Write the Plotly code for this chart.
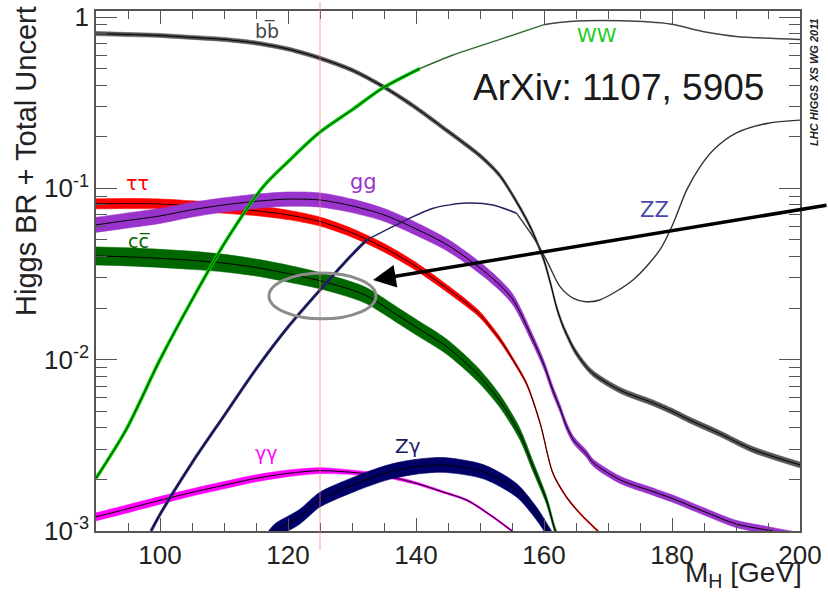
import plotly.graph_objects as go

# ---------------- data ----------------
bb_m = [90, 95, 100, 105, 110, 115, 120, 125, 130, 135, 140, 145, 150, 153, 156, 158, 160, 161, 162, 163, 165, 167.5, 172, 177, 180, 183, 187.5, 192.5, 200]
bb_v = [0.80, 0.79, 0.78, 0.76, 0.74, 0.705, 0.65, 0.575, 0.49, 0.39, 0.295, 0.215, 0.155, 0.12, 0.08, 0.058, 0.038, 0.028, 0.020, 0.0156, 0.011, 0.0084, 0.0066, 0.0056, 0.0050, 0.0044, 0.0037, 0.0030, 0.00243]
bb_u = [2.7, 2.7, 2.7, 2.7, 2.7, 2.7, 2.7, 2.7, 2.7, 2.7, 3, 3, 3, 3, 3, 3, 3.5, 3.5, 3.5, 3.5, 4, 4, 4, 4, 4, 4, 4, 4, 4]

tt_m = [90, 95, 100, 105, 110, 115, 120, 125, 130, 135, 140, 145, 148, 150, 153, 155, 157.3, 159.4, 161.4, 163.5, 165.5, 167.7, 170]
tt_v = [0.0812, 0.0815, 0.081, 0.079, 0.0766, 0.074, 0.070, 0.064, 0.055, 0.045, 0.035, 0.0258, 0.0212, 0.0183, 0.0133, 0.0102, 0.0072, 0.00425, 0.00217, 0.00158, 0.00128, 0.00106, 0.00088]
tt_u = [7, 7, 7, 7, 7, 6.8, 6.5, 6.2, 6, 5.8, 5.5, 5, 4.6, 4.2, 3.5, 2.8, 2.1, 1.6, 1.4, 1.3, 1.3, 1.3, 1.3]

gg_m = [90, 95, 100, 105, 110, 115, 120, 125, 130, 135, 140, 145, 151, 155, 158.3, 160, 161.4, 162.5, 163.5, 164.6, 166.6, 167.7, 172, 177, 180, 185, 190, 195, 200]
gg_v = [0.0612, 0.065, 0.069, 0.075, 0.080, 0.084, 0.0865, 0.0855, 0.079, 0.070, 0.058, 0.0465, 0.032, 0.0228, 0.013, 0.0093, 0.0066, 0.0052, 0.0041, 0.0034, 0.00283, 0.0025, 0.00198, 0.0017, 0.00155, 0.0013, 0.0011, 0.00101, 0.00093]
gg_u = [10.6, 10.6, 10.6, 10.3, 10, 10, 10, 10, 9.5, 9, 9, 8.5, 8, 7.5, 6.5, 6, 6, 5.5, 5.5, 5, 5, 5, 5, 5, 5, 5, 5, 5, 5]

cc_m = [90, 95, 100, 105, 110, 115, 120, 125, 130, 132.3, 137.5, 140, 144.8, 149.5, 153, 156.2, 158.3, 160.4, 161.7, 162.5]
cc_v = [0.0403, 0.0398, 0.039, 0.038, 0.0366, 0.0345, 0.0318, 0.0289, 0.0255, 0.0236, 0.0178, 0.0155, 0.0119, 0.0083, 0.0058, 0.0037, 0.00237, 0.00151, 0.00102, 0.00085]
cc_u = [12.9, 12.9, 12.9, 12.9, 12.5, 12, 12, 11.5, 11.4, 11.4, 11, 11, 10.6, 10, 9, 8, 7, 5.5, 4.5, 4]

aa_m = [90, 95, 100, 105, 110, 115, 120, 125, 130, 135, 140, 144, 148, 152, 155, 156.5]
aa_v = [0.00121, 0.00135, 0.00151, 0.00168, 0.00185, 0.00203, 0.00217, 0.00225, 0.0022, 0.0021, 0.0019, 0.0017, 0.00151, 0.00121, 0.00100, 0.00091]
aa_u = [5.5, 5.5, 5.3, 5, 5, 4.8, 4.5, 4, 3, 2.3, 1.8, 1.5, 1.3, 1.3, 1.3, 1.3]

za_m = [117, 118, 121.8, 124.8, 127, 132.3, 136, 140, 144.2, 150.5, 155.7, 158.8, 160.6, 161.5]
za_v = [0.00091, 0.00100, 0.00121, 0.00151, 0.00166, 0.0020, 0.00222, 0.00237, 0.00243, 0.00222, 0.00173, 0.00127, 0.00100, 0.00088]
za_u = [10.5, 10.5, 10.5, 10.5, 10.5, 10.5, 10.5, 10.5, 10.5, 10, 9.5, 9, 8.5, 8.5]

ww_m = [90, 94.7, 100, 105, 110.4, 116.1, 120, 124.8, 130, 134.8, 140.6, 145.8, 153.6, 159.9, 164, 172, 179.7, 185, 190, 200]
ww_v = [0.00203, 0.0039, 0.0100, 0.0223, 0.050, 0.102, 0.143, 0.21, 0.287, 0.385, 0.50, 0.60, 0.75, 0.90, 0.94, 0.95, 0.91, 0.82, 0.77, 0.74]

zz_m = [98.6, 100, 105, 110, 115, 120, 125, 130, 132.3, 138.5, 142.7, 147.9, 152, 155.7, 158.3, 160.4, 162.5, 164.6, 166.5, 168.7, 173.9, 178.1, 180.2, 182.3, 184.4, 186.5, 190, 195, 200]
zz_v = [0.0010, 0.00125, 0.0025, 0.0047, 0.0088, 0.0155, 0.0255, 0.041, 0.050, 0.0655, 0.0766, 0.082, 0.080, 0.0716, 0.052, 0.038, 0.0267, 0.0228, 0.0218, 0.0223, 0.0292, 0.0437, 0.0626, 0.098, 0.134, 0.168, 0.21, 0.24, 0.25]

x_range = [90, 200]
x_ticks = [100, 120, 140, 160, 180, 200]
y_tickvals = [0.001, 0.01, 0.1, 1]
y_ticktext = ["10<sup>-3</sup>", "10<sup>-2</sup>", "10<sup>-1</sup>", "1"]
m_marker = 125

FONT = "Liberation Sans, Arial, sans-serif"

fig = go.Figure()


def band(m, v, u, color, center="black"):
    lo = [a / (1 + b / 100) for a, b in zip(v, u)]
    hi = [a * (1 + b / 100) for a, b in zip(v, u)]
    ls = dict(width=0.6, color=color, shape="spline", smoothing=0.8)
    fig.add_trace(go.Scatter(x=m, y=lo, mode="lines", line=ls, hoverinfo="skip", showlegend=False))
    fig.add_trace(go.Scatter(x=m, y=hi, mode="lines", line=ls, fill="tonexty", fillcolor=color,
                             hoverinfo="skip", showlegend=False))
    fig.add_trace(go.Scatter(x=m, y=v, mode="lines",
                             line=dict(width=1, color=center, shape="spline", smoothing=0.8),
                             showlegend=False))


def seg(m, v, lo, hi):
    pts = [(a, b) for a, b in zip(m, v) if lo <= a <= hi]
    return [p[0] for p in pts], [p[1] for p in pts]


def line(m, v, color, width):
    fig.add_trace(go.Scatter(x=m, y=v, mode="lines",
                             line=dict(width=width, color=color, shape="spline", smoothing=0.8),
                             showlegend=False))


band(bb_m, bb_v, bb_u, "#555555")
band(tt_m, tt_v, tt_u, "#ff0000", "#1a0000")
band(gg_m, gg_v, gg_u, "#9933cc")
band(cc_m, cc_v, cc_u, "#006600")
band(aa_m, aa_v, aa_u, "#ff00ff")
band(za_m, za_v, za_u, "#000066")

# WW
x1, y1 = seg(ww_m, ww_v, 0, 140.6)
line(x1, y1, "#00cc00", 3.5)
line(x1, y1, "#003300", 1)
x2, y2 = seg(ww_m, ww_v, 140.6, 159.9)
line(x2, y2, "#2f6a2f", 1.5)
x3, y3 = seg(ww_m, ww_v, 159.9, 200)
line(x3, y3, "#444444", 1.5)

# ZZ
x1, y1 = seg(zz_m, zz_v, 0, 132.3)
line(x1, y1, "#2a2a72", 3)
line(x1, y1, "#0a0a30", 1)
x2, y2 = seg(zz_m, zz_v, 132.3, 155.7)
line(x2, y2, "#23235e", 1.5)
x3, y3 = seg(zz_m, zz_v, 155.7, 200)
line(x3, y3, "#333333", 1.4)

# vertical marker at 125 GeV
fig.add_shape(type="line", xref="x", yref="paper", x0=m_marker, x1=m_marker, y0=-0.037, y1=1.017,
              line=dict(color="rgba(240,120,120,0.7)", width=1), layer="above")

# ellipse and arrow
fig.add_shape(type="circle", xref="paper", yref="paper", x0=0.2457, x1=0.3977, y0=0.408, y1=0.496,
              line=dict(color="#8c8c8c", width=3), layer="above")
fig.add_annotation(xref="paper", yref="paper", x=(373 - 96) / 704, y=(531 - 280) / 520, ax=455, ay=-75, text="",
                   showarrow=True, arrowhead=2, arrowsize=1.3, arrowwidth=3.5, arrowcolor="black")

labels = [
    ("b b\u0305", 267, 31, "#444444", 19),
    ("\u03c4\u03c4", 137.5, 183, "#ff0000", 19),
    ("gg", 363, 182, "#9933cc", 21),
    ("c c\u0305", 139, 241, "#006600", 19),
    ("\u03b3\u03b3", 266, 453, "#ff00ff", 19),
    ("Z\u03b3", 408, 446, "#1a1a66", 20),
    ("WW", 597, 35, "#22cc22", 20),
    ("ZZ", 654, 210, "#4a4aaa", 21),
]
for t, px, py, c, s in labels:
    fig.add_annotation(xref="paper", yref="paper", x=(px - 96) / 704, y=(531 - py) / 520, text=t.replace(" ", ""),
                       showarrow=False, font=dict(color=c, size=s, family="DejaVu Sans"),
                       xanchor="center", yanchor="middle")

fig.add_annotation(xref="paper", yref="paper", x=(618 - 96) / 704, y=(531 - 87) / 520,
                   text="ArXiv: 1107, 5905", showarrow=False,
                   font=dict(size=37, color="#1a1a1a", family=FONT), xanchor="center", yanchor="middle")
fig.add_annotation(xref="paper", yref="paper", x=(814 - 96) / 704, y=(531 - 82) / 520,
                   text="<b><i>LHC HIGGS XS WG 2011</i></b>", textangle=-90, showarrow=False,
                   font=dict(size=11, color="#222222", family=FONT), xanchor="center", yanchor="middle")
fig.add_annotation(xref="paper", yref="paper", x=(26 - 96) / 704, y=(531 - 161) / 520,
                   text="Higgs BR + Total Uncert", textangle=-90, showarrow=False,
                   font=dict(size=29, color="#222222", family=FONT), xanchor="center", yanchor="middle")
fig.add_annotation(xref="paper", yref="paper", x=1.005, y=(531 - 574) / 520,
                   text="M<sub>H</sub> [GeV]", showarrow=False,
                   font=dict(size=28, color="#222222", family=FONT), xanchor="right", yanchor="middle")

axis_col = "#555555"
fig.update_xaxes(range=x_range, tickvals=x_ticks, ticks="inside", ticklen=13, tickwidth=1.2,
                 tickcolor=axis_col, showline=True, linecolor=axis_col, linewidth=1.5, mirror="ticks",
                 showgrid=False, zeroline=False, automargin=False,
                 tickfont=dict(size=26, color="#222222", family=FONT),
                 minor=dict(dtick=5, tick0=90, ticks="inside", ticklen=8, tickcolor=axis_col, showgrid=False))
fig.update_yaxes(type="log", range=[-3, 0.035], tickvals=y_tickvals, ticktext=y_ticktext,
                 ticks="inside", ticklen=21, tickwidth=1.2, tickcolor=axis_col,
                 showline=True, linecolor=axis_col, linewidth=1.5, mirror="ticks",
                 showgrid=False, zeroline=False, automargin=False,
                 tickfont=dict(size=26, color="#222222", family=FONT),
                 minor=dict(tickmode="array",
                            tickvals=[k * 10 ** e for e in (-3, -2, -1) for k in range(2, 10)],
                            ticks="inside", ticklen=11, tickcolor=axis_col, showgrid=False))

fig.update_layout(template="none", width=828, height=592, margin=dict(l=96, r=28, t=11, b=61, pad=0),
                  plot_bgcolor="white", paper_bgcolor="white", showlegend=False)

fig.write_html("out.html", config={"displayModeBar": False},
               post_script="document.body.style.margin='0';document.body.style.overflow='hidden';")
